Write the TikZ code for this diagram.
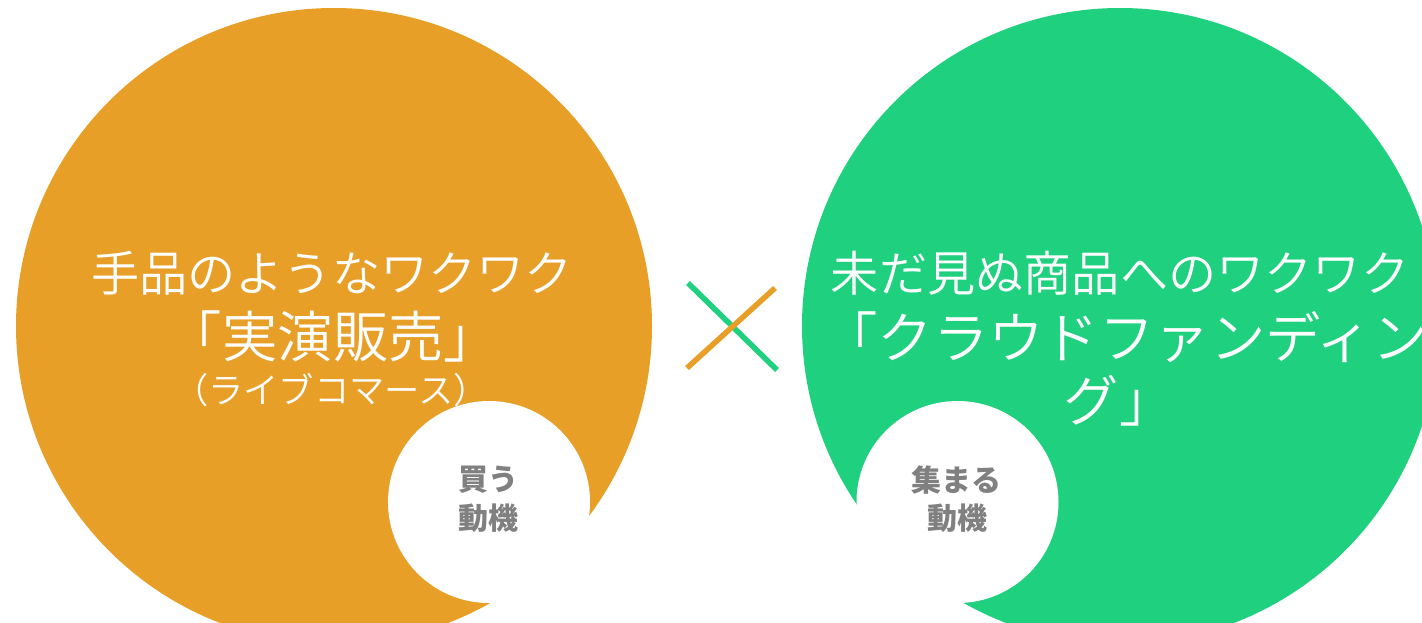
\documentclass[tikz,border=0pt]{standalone}
\usepackage{fontspec}
\setmainfont{Noto Sans CJK JP}
\IfFontExistsTF{Noto Sans CJK JP DemiLight}
  {\newfontfamily\jp{Noto Sans CJK JP DemiLight}[BoldFont={Noto Sans CJK JP Bold}]}
  {\newfontfamily\jp{Noto Sans CJK JP}}
\newfontfamily\jpb{Noto Sans CJK JP}
\definecolor{myorange}{HTML}{E89F28}
\definecolor{mygreen}{HTML}{1FD07F}
\definecolor{mygray}{HTML}{808080}
\tikzset{
  bigdisc/.style={circle, inner sep=0pt, minimum size=636pt, draw=none},
  smalldisc/.style={circle, inner sep=0pt, minimum size=202pt, fill=white, draw=none},
  headtext/.style={text=white, inner sep=0pt, font=\jp\fontsize{48.2}{50}\selectfont},
  titletext/.style={text=white, inner sep=0pt, font=\jp\fontsize{55.4}{58}\selectfont},
  subtext/.style={text=white, inner sep=0pt, font=\jp\fontsize{35.3}{37}\selectfont},
  motivetext/.style={text=mygray, inner sep=0pt, font=\jpb\bfseries\fontsize{30}{32}\selectfont},
  crossline/.style={line width=5.5pt}
}
\begin{document}
\begin{tikzpicture}[x=1pt, y=-1pt]
\useasboundingbox (0,0) rectangle (1422,622);
\clip (0,0) rectangle (1422,622);
\fill[white] (0,0) rectangle (1422,622);
% big discs
\node[bigdisc, fill=myorange] (oc) at (334,326) {};
\node[bigdisc, fill=mygreen] (gc) at (1120,326) {};
% small white discs
\node[smalldisc] (ow) at (489,502) {};
\node[smalldisc] (gw) at (957.5,502) {};
% left texts
\node[headtext] (l1) at (332,273) {手品のようなワクワク};
\node[titletext] (l2) at (333,336) {「実演販売」};
\node[subtext] (l3) at (331,390) {（ライブコマース）};
% right texts
\node[headtext] (r1) at (1120,273) {未だ見ぬ商品へのワクワク};
\node[titletext, anchor=west] (r2) at (822,337) {「クラウドファンディン};
\node[titletext] (r3) at (1119,401) {グ」};
% motive texts
\node[motivetext] (m1a) at (488,480) {買う};
\node[motivetext] (m1b) at (488,518) {動機};
\node[motivetext] (m2a) at (956,480) {集まる};
\node[motivetext] (m2b) at (957,518) {動機};
% cross
\coordinate (ga) at (688,283);
\coordinate (gb) at (777,370);
\coordinate (oa) at (687,368);
\coordinate (ob) at (775,288);
\draw[crossline, mygreen] (ga) -- (gb);
\draw[crossline, myorange] (oa) -- (ob);
\end{tikzpicture}
\end{document}
